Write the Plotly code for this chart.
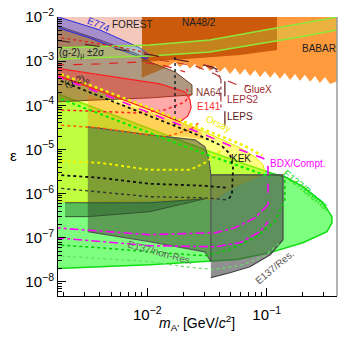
import plotly.graph_objects as go

# ---------- data (mass in GeV, epsilon) ----------
BABAR_M = [0.0090, 0.0141, 0.0171, 0.0188, 0.0207, 0.0228, 0.0251, 0.0276, 0.0304, 0.0335,
           0.0369, 0.0406, 0.0447, 0.0493, 0.0543, 0.0598, 0.0658, 0.0725, 0.0798, 0.0879,
           0.0968, 0.107, 0.117, 0.129, 0.142, 0.157, 0.173, 0.190, 0.209, 0.231,
           0.254, 0.279, 0.308, 0.339, 0.388, 0.5, 0.5, 0.0090]
BABAR_E = [4.2e-4, 7.0e-4, 9.6e-4, 7.4e-4, 9.1e-4, 6.7e-4, 8.7e-4, 6.3e-4, 8.2e-4, 6.0e-4,
           7.8e-4, 5.7e-4, 7.4e-4, 5.1e-4, 7.0e-4, 4.9e-4, 6.7e-4, 4.6e-4, 6.3e-4, 4.4e-4,
           6.0e-4, 4.2e-4, 5.7e-4, 4.0e-4, 5.4e-4, 3.76e-4, 5.1e-4, 3.6e-4, 4.9e-4, 3.4e-4,
           4.6e-4, 3.2e-4, 4.4e-4, 3.05e-4, 3.5e-4, 3.5e-4, 0.02, 0.02]

NA48_M = [0.0090, 0.122, 0.122, 0.0598, 0.0276, 0.0141, 0.0090]
NA48_E = [0.02, 0.02, 1.79e-3, 1.38e-3, 1.18e-3, 1.06e-3, 9.6e-4]

FOREST_M = [0.0017, 0.0090, 0.0090, 0.0017]
FOREST_E = [0.02, 0.02, 2.1e-3, 2.1e-3]

E137_M = [0.0017, 0.00402, 0.0105, 0.0304, 0.0725, 0.107, 0.148, 0.201, 0.296, 0.352,
          0.352, 0.320, 0.201, 0.107, 0.0564, 0.0304, 0.0105, 0.00402, 0.0017]
E137_E = [1.91e-4, 7.9e-5, 2.92e-5, 9.8e-6, 4.26e-6, 2.96e-6, 2.28e-6, 1.43e-6, 6.2e-7, 3.0e-7,
          2.18e-7, 1.37e-7, 7.7e-8, 4.6e-8, 3.2e-8, 2.9e-8, 2.45e-8, 2.2e-8, 2.0e-8]

ORSAY_M = [0.0017, 0.00402, 0.0105, 0.0304, 0.0598, 0.0798, 0.0933, 0.0968, 0.0846, 0.0543,
           0.0369, 0.0105, 0.00402, 0.0017]
ORSAY_E = [5.1e-4, 2.12e-4, 7.9e-5, 2.5e-5, 1.09e-5, 6.8e-6, 4.5e-6, 3.11e-6, 2.4e-6, 1.5e-6,
           7.6e-7, 6.9e-7, 6.5e-7, 6.5e-7]

NA64_M = [0.0017, 0.00402, 0.00869, 0.0105, 0.0171, 0.0237, 0.0237, 0.0105, 0.00402, 0.0017]
NA64_E = [6.59e-3, 3.02e-3, 1.38e-3, 9.6e-4, 5.7e-4, 2.9e-4, 1.72e-4, 1.47e-4, 1.33e-4, 1.19e-4]

E774_M = [0.0017, 0.00402, 0.00869, 0.0105, 0.0099, 0.0059, 0.00331, 0.0017]
E774_E = [1.05e-2, 5.08e-3, 1.99e-3, 1.38e-3, 1.12e-3, 1.79e-3, 3.35e-3, 5.94e-3]

E141_M = [0.0017, 0.0059, 0.0128, 0.0207, 0.0228, 0.0233, 0.0219, 0.0188, 0.0105, 0.00402, 0.0017]
E141_E = [7.0e-4, 4.2e-4, 3.05e-4, 2.01e-4, 1.33e-4, 8.7e-5, 5.75e-5, 4.2e-5, 7.9e-5, 2.12e-4, 4.9e-4]

ORANGE_M = [0.00318, 0.0105, 0.0276, 0.0304, 0.0207, 0.0105, 0.0059, 0.00318]
ORANGE_E = [1.72e-4, 7.1e-5, 2.8e-5, 1.65e-5, 1.93e-5, 2.14e-5, 2.6e-5, 3.24e-5]

NONRES_M = [0.00318, 0.0105, 0.0251, 0.0304, 0.0329, 0.0341, 0.0341, 0.0304, 0.0105, 0.00318]
NONRES_E = [3.24e-5, 2.14e-5, 1.65e-5, 1.15e-5, 5.8e-6, 2.66e-6, 2.9e-8, 4.8e-8, 8.1e-8, 1.37e-7]

NONRES2_M = [0.00205, 0.0105, 0.0304, 0.0105, 0.00318, 0.00205]
NONRES2_E = [6.2e-7, 6.2e-7, 7.6e-7, 3.9e-7, 3.0e-7, 3.0e-7]

RES_M = [0.0341, 0.137, 0.137, 0.107, 0.0725, 0.0493, 0.0341]
RES_E = [2.66e-6, 2.66e-6, 9.0e-8, 4.1e-8, 2.2e-8, 1.61e-8, 1.25e-8]

G2MU_M = [0.0017, 0.00331, 0.0105, 0.0335, 0.0879, 0.190, 0.388]
G2MU_HI = [1.99e-3, 2.10e-3, 2.33e-3, 3.02e-3, 4.82e-3, 6.95e-3, 1.0e-2]
G2MU_LO = [1.12e-3, 1.18e-3, 1.31e-3, 1.61e-3, 2.45e-3, 3.53e-3, 5.08e-3]

BDX_M = [0.0017, 0.00402, 0.0105, 0.0304, 0.0598, 0.0914, 0.1026, 0.1026]
BDX_E = [4.6e-4, 1.91e-4, 6.7e-5, 2.14e-5, 9.8e-6, 6.45e-6, 5.5e-6, 5.6e-7]
BDX1_M = [0.1026, 0.0933, 0.0798, 0.0543, 0.0369, 0.0105, 0.00402, 0.0017]
BDX1_E = [5.6e-7, 4.3e-7, 2.83e-7, 1.68e-7, 1.30e-7, 1.17e-7, 1.44e-7, 1.68e-7]
BDX2_M = [0.0017, 0.00402, 0.0105, 0.0369, 0.0598, 0.0879, 0.1026]
BDX2_E = [1.0e-7, 8.1e-8, 6.6e-8, 6.25e-8, 7.7e-8, 1.37e-7, 2.3e-7]

ORSAY_DOT_M = [0.0017, 0.0105, 0.0304, 0.0658, 0.0914]
ORSAY_DOT_E = [5.7e-4, 8.7e-5, 2.78e-5, 1.2e-5, 7.2e-6]
YEL_LOW_M = [0.0017, 0.00402, 0.0105, 0.0228, 0.0304, 0.0369, 0.0422]
YEL_LOW_E = [5.5e-6, 4.98e-6, 3.45e-6, 3.45e-6, 4.98e-6, 7.6e-6, 9.8e-6]

KEK_M = [0.0017, 0.0105, 0.0304, 0.0422, 0.0493, 0.0523, 0.0512, 0.0474]
KEK_E = [4.0e-4, 5.75e-5, 1.83e-5, 1.2e-5, 7.9e-6, 3.83e-6, 9.4e-7, 7.2e-7]
KEK1_M = [0.0017, 0.00402, 0.0105, 0.0304, 0.0474]
KEK1_E = [2.66e-6, 2.28e-6, 1.67e-6, 1.5e-6, 1.35e-6]
KEK2_M = [0.0017, 0.00402, 0.0105, 0.0304, 0.0474]
KEK2_E = [1.35e-6, 1.10e-6, 8.5e-7, 8.0e-7, 7.2e-7]
VDOT_M = [0.0171, 0.0171]
VDOT_E = [1.24e-3, 3.6e-5]

RED1_M = [0.0017, 0.00442, 0.00836, 0.0141, 0.0207, 0.0228, 0.0211]
RED1_E = [7.9e-5, 7.1e-5, 6.7e-5, 7.9e-5, 1.19e-4, 1.72e-4, 2.48e-4]
RED2_M = [0.0017, 0.00402, 0.00869, 0.0141, 0.0228, 0.0276]
RED2_E = [3.6e-5, 3.08e-5, 2.25e-5, 1.93e-5, 2.78e-5, 4.2e-5]
RED3_M = [0.0017, 0.00402, 0.00869, 0.0141, 0.0207]
RED3_E = [8.2e-4, 8.65e-4, 9.6e-4, 7.8e-4, 5.7e-4]
RED4_M = [0.0017, 0.00365, 0.00788, 0.0128]
RED4_E = [3.53e-3, 2.58e-3, 1.79e-3, 1.24e-3]

LEPS_M = [0.0017, 0.00487, 0.0121, 0.0228, 0.0348, 0.0422, 0.0447, 0.0447]
LEPS_E = [3.0e-3, 1.99e-3, 1.31e-3, 9.6e-4, 7.4e-4, 5.7e-4, 3.76e-4, 2.38e-5]
LEPS2_M = [0.0304, 0.0391, 0.0414, 0.0414]
LEPS2_E = [8.2e-4, 5.7e-4, 3.76e-4, 7.9e-5]
GLUEX_M = [0.0128, 0.0251, 0.0369, 0.0447, 0.0598, 0.0697]
GLUEX_E = [1.06e-3, 7.8e-4, 5.1e-4, 3.76e-4, 2.75e-4, 2.75e-4]

GDIAG_M = [0.0017, 0.0304, 0.107]
GDIAG_E = [1.55e-4, 7.9e-6, 2.4e-6]
GDOT1_M = [0.0017, 0.00402, 0.0105, 0.0304, 0.0493, 0.0798, 0.117, 0.142, 0.142]
GDOT1_E = [6.9e-8, 5.94e-8, 4.8e-8, 3.9e-8, 5.4e-8, 1.0e-7, 2.3e-7, 7.2e-7, 2.28e-6]
GDOT2_M = [0.0017, 0.00402, 0.0105, 0.0207, 0.0362, 0.0598, 0.0968, 0.129]
GDOT2_E = [3.9e-8, 3.35e-8, 2.9e-8, 2.2e-8, 1.9e-8, 2.33e-8, 3.9e-8, 7.7e-8]

X_TICKS = [0.01, 0.1]
X_TICKTEXT = ["10<sup>−2</sup>", "10<sup>−1</sup>"]
Y_TICKS = [1e-8, 1e-7, 1e-6, 1e-5, 1e-4, 1e-3, 1e-2]
Y_TICKTEXT = ["10<sup>−8</sup>", "10<sup>−7</sup>", "10<sup>−6</sup>", "10<sup>−5</sup>",
              "10<sup>−4</sup>", "10<sup>−3</sup>", "10<sup>−2</sup>"]
X_MINOR = [0.002, 0.003, 0.004, 0.005, 0.006, 0.007, 0.008, 0.009,
           0.02, 0.03, 0.04, 0.05, 0.06, 0.07, 0.08, 0.09, 0.2, 0.3]
Y_MINOR = [k * 10.0 ** p for p in range(-9, -2) for k in range(2, 10)]

fig = go.Figure()


def region(m, e, fill, line="rgba(0,0,0,0)", width=0):
    fig.add_trace(go.Scatter(x=m, y=e, mode="lines", fill="toself", fillcolor=fill,
                             line=dict(color=line, width=width), hoverinfo="skip",
                             showlegend=False))


def curve(m, e, color, dash="solid", width=1.2):
    fig.add_trace(go.Scatter(x=m, y=e, mode="lines", line=dict(color=color, width=width, dash=dash),
                             hoverinfo="skip", showlegend=False))


region(BABAR_M, BABAR_E, "#ff9a3d")
region(NA48_M, NA48_E, "#cc5a0c")
region(FOREST_M, FOREST_E, "#f4c8bc")
region(E137_M, E137_E, "rgba(0,255,0,0.5)", "#10dd10", 1.5)
region(ORSAY_M, ORSAY_E, "rgba(255,255,0,0.5)", "#e8e800", 1)
region(NA64_M, NA64_E, "rgba(110,70,30,0.55)", "#6b4020", 1)
region(E774_M, E774_E, "rgba(70,70,220,0.45)", "#2a2ae0", 1)
region(E141_M, E141_E, "rgba(255,40,40,0.4)", "#ff2020", 1.2)
region(ORANGE_M, ORANGE_E, "rgba(255,110,0,0.3)")
region(NONRES_M, NONRES_E, "rgba(55,55,40,0.48)", "#555555", 1.2)
region(NONRES2_M, NONRES2_E, "rgba(20,70,20,0.35)", "#335533", 1)
region(RES_M, RES_E, "rgba(70,70,70,0.6)", "#444444", 1.2)

# (g-2)_mu band
fig.add_trace(go.Scatter(x=G2MU_M, y=G2MU_HI, mode="lines", line=dict(color="#8de83a", width=1.5),
                         hoverinfo="skip", showlegend=False))
fig.add_trace(go.Scatter(x=G2MU_M, y=G2MU_LO, mode="lines", fill="tonexty",
                         fillcolor="rgba(170,255,80,0.25)", line=dict(color="#8de83a", width=1.5),
                         hoverinfo="skip", showlegend=False))

curve(RED4_M, RED4_E, "#e02020", "dot")
curve(RED3_M, RED3_E, "#e02020", "dash")
curve(RED1_M, RED1_E, "#ff2020", "dot", 1.5)
curve(RED2_M, RED2_E, "#ff5a00", "dot", 1.5)
curve(LEPS_M, LEPS_E, "#5a1a1a", "longdash")
curve(LEPS2_M, LEPS2_E, "#a03040", "dashdot")
curve(GLUEX_M, GLUEX_E, "#c0392b", "dash")
curve(VDOT_M, VDOT_E, "#222222", "dot", 1.5)
curve(GDIAG_M, GDIAG_E, "#00ee00", "dot", 2)
curve(ORSAY_DOT_M, ORSAY_DOT_E, "#f0f000", "dot", 2.5)
curve(BDX_M, BDX_E, "#ff00ff", "dash", 1.6)
curve(BDX1_M, BDX1_E, "#ff00ff", "dashdot", 1.6)
curve(BDX2_M, BDX2_E, "#ff00ff", "dashdot", 1.6)
curve(KEK_M, KEK_E, "#111111", "dot", 1.8)
curve(KEK1_M, KEK1_E, "#111111", "dot", 1.8)
curve(KEK2_M, KEK2_E, "#333333", "dot", 1.4)
curve(YEL_LOW_M, YEL_LOW_E, "#f0f000", "dot", 2)
curve(GDOT1_M, GDOT1_E, "#00cc00", "dot", 1.5)
curve(GDOT2_M, GDOT2_E, "#66dd66", "dot", 1.2)


def px(x, y):
    return (x - 58) / 279.0, 1 - (y - 17) / 279.0


LABELS = [
    ("E774", 99, 24, "#2a2ae0", 22, 10),
    ("FOREST", 132, 24, "#222222", 0, 10),
    ("NA48/2", 199, 23, "#222222", 0, 10),
    ("BABAR", 319, 49, "#222222", 0, 10),
    ("(g-2)<sub>μ</sub> ±2σ", 82, 53, "#222222", 0, 10),
    ("(g-2)<sub>e</sub>", 76, 81, "#222222", -15, 10),
    ("NA64", 208, 92, "#8b3a3a", 0, 10),
    ("E141", 209, 106, "#ff3030", 0, 10),
    ("GlueX", 258, 89, "#a0282a", 0, 10),
    ("LEPS2", 243, 99, "#a0303a", 0, 10),
    ("LEPS", 240, 116, "#5a1a1a", 0, 10),
    ("Orsay", 218, 124, "#f0f000", 25, 10),
    ("KEK", 241, 158, "#111111", 0, 10),
    ("BDX/Compt.", 298, 163, "#ff00ff", 0, 10),
    ("E137/Brems.", 307, 190, "#10dd10", 40, 10),
    ("E137/non-Res.", 160, 252, "#666666", 15, 10),
    ("E137/Res.", 274, 267, "#555555", -40, 10),
]
for text, lx, ly, col, ang, size in LABELS:
    ax_, ay_ = px(lx, ly)
    fig.add_annotation(x=ax_, y=ay_, xref="paper", yref="paper", text=text, showarrow=False,
                       xanchor="center", yanchor="middle", textangle=ang,
                       font=dict(color=col, size=size, family="Liberation Sans"))

tx, ty = px(197, 323)
fig.add_annotation(x=tx, y=ty, xref="paper", yref="paper", showarrow=False,
                   xanchor="center", yanchor="middle",
                   text="<i>m</i><sub>A'</sub> [GeV/<i>c</i><sup>2</sup>]",
                   font=dict(size=14, family="Liberation Sans", color="#000000"))
ex, ey = px(13, 155)
fig.add_annotation(x=ex, y=ey, xref="paper", yref="paper", showarrow=False, text="ε",
                   xanchor="center", yanchor="middle",
                   font=dict(size=15, family="Liberation Sans", color="#000000"))

# light grey right frame edge, as in the reference
fig.add_shape(type="line", xref="paper", yref="paper", x0=1, x1=1, y0=0, y1=1,
              line=dict(color="#9a9a9a", width=1.5))

axis_common = dict(type="log", showgrid=False, zeroline=False, ticks="inside", ticklen=8,
                   tickcolor="#000000", showline=True, linecolor="#000000", linewidth=1,
                   mirror=False, automargin=False, tickmode="array",
                   tickfont=dict(size=15, family="Liberation Sans", color="#000000"))
fig.update_layout(
    width=355, height=343,
    margin=dict(l=58, r=18, t=17, b=47, autoexpand=False),
    paper_bgcolor="white", plot_bgcolor="white",
    xaxis=dict(range=[-2.747, -0.411], ticklabelstandoff=5,
               tickvals=X_TICKS, ticktext=X_TICKTEXT,
               minor=dict(tickmode="array", tickvals=X_MINOR, ticks="inside", ticklen=4,
                          tickcolor="#000000"),
               **axis_common),
    yaxis=dict(range=[-8.32, -2.0], tickvals=Y_TICKS, ticktext=Y_TICKTEXT,
               minor=dict(tickmode="array", tickvals=Y_MINOR, ticks="inside", ticklen=4,
                          tickcolor="#000000"),
               **axis_common),
)

fig.write_html("out.html", config={"displayModeBar": False},
               post_script="document.body.style.margin='0';")
